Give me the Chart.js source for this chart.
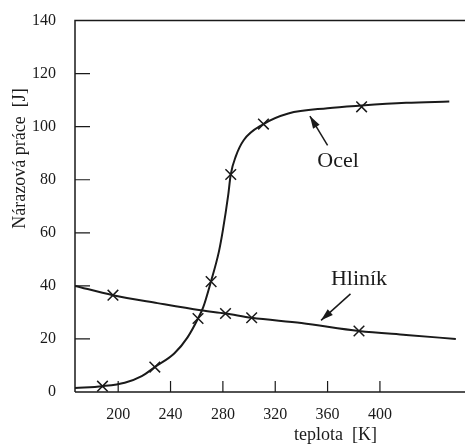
<!DOCTYPE html>
<html>
<head>
<meta charset="utf-8">
<script src="https://cdn.jsdelivr.net/npm/chart.js@4/dist/chart.umd.min.js"></script>
<style>
  html, body { margin: 0; padding: 0; background: #fff; }
  #wrap { width: 474px; height: 445px; }
</style>
</head>
<body>
<div id="wrap"><canvas id="myChart"></canvas></div>
<script>
// curve (teplota K, práce J)
const ocelT = [167, 188, 205, 218, 228, 243, 253, 261, 265, 270.5, 277, 280, 284, 286, 290, 296, 311, 330, 360, 386, 420, 453];
const ocelJ = [1.5, 2.2, 3.5, 6, 9.4, 14.6, 20.6, 27.7, 32, 41, 53, 61, 74, 82, 89, 95, 101, 105, 107, 108, 109, 109.5];
const ocelMarkT = [188, 228, 261, 271, 286, 311, 386];
const ocelMarkJ = [2.2, 9.4, 27.7, 41.6, 82, 101, 107.5];

const hlinikT = [167, 196, 230, 263, 282, 302, 340, 384, 420, 458];
const hlinikJ = [40, 36.5, 33.5, 30.8, 29.6, 28, 26, 23, 21.5, 20];
const hlinikMarkT = [196, 282, 302, 384];
const hlinikMarkJ = [36.5, 29.6, 28, 23];

const xTicks = [200, 240, 280, 320, 360, 400];
const yTicks = [0, 20, 40, 60, 80, 100, 120, 140];

const pts = (xs, ys) => xs.map((x, i) => ({ x: x, y: ys[i] }));
const serif = '"Liberation Serif", "DejaVu Serif", serif';
const ink = '#1a1a1a';

// labels with arrows, in data coordinates
const notes = [
  { text: 'Ocel', x: 368, y: 87, from: [360, 93], to: [346.5, 104] },
  { text: 'Hliník', x: 384, y: 42.5, from: [377.5, 37], to: [355, 27] }
];

const extras = {
  id: 'extras',
  afterDraw(chart) {
    const c = chart.ctx, xs = chart.scales.x, ys = chart.scales.y;
    const a = chart.chartArea;
    c.save();
    c.strokeStyle = ink;
    c.lineWidth = 1.5;
    // frame: left, bottom, top
    c.beginPath();
    c.moveTo(a.left, a.bottom); c.lineTo(a.left, a.top); c.lineTo(a.right, a.top);
    c.moveTo(a.left, a.bottom); c.lineTo(a.right, a.bottom);
    c.stroke();
    // inner ticks
    c.lineWidth = 1.2;
    c.beginPath();
    yTicks.forEach(v => {
      if (v === 0 || v === 140) return;
      const py = ys.getPixelForValue(v);
      c.moveTo(a.left, py); c.lineTo(a.left + 15, py);
    });
    xTicks.forEach(v => {
      const px = xs.getPixelForValue(v);
      c.moveTo(px, a.bottom); c.lineTo(px, a.bottom - 11);
    });
    c.stroke();
    c.fillStyle = ink;
    c.textAlign = 'center';
    c.textBaseline = 'middle';
    // axis titles (off-centre, as in the original)
    c.font = '18px ' + serif;
    c.fillText('teplota  [K]', xs.getPixelForValue(366), 435);
    c.save();
    c.translate(20, ys.getPixelForValue(88));
    c.rotate(-Math.PI / 2);
    c.fillText('Nárazová práce  [J]', 0, 0);
    c.restore();
    // notes
    c.font = '22px ' + serif;
    notes.forEach(n => {
      c.fillText(n.text, xs.getPixelForValue(n.x), ys.getPixelForValue(n.y));
      const x1 = xs.getPixelForValue(n.from[0]), y1 = ys.getPixelForValue(n.from[1]);
      const x2 = xs.getPixelForValue(n.to[0]), y2 = ys.getPixelForValue(n.to[1]);
      c.lineWidth = 1.5;
      c.beginPath(); c.moveTo(x1, y1); c.lineTo(x2, y2); c.stroke();
      const ang = Math.atan2(y2 - y1, x2 - x1), L = 13, W = 0.3;
      c.beginPath();
      c.moveTo(x2, y2);
      c.lineTo(x2 - L * Math.cos(ang - W), y2 - L * Math.sin(ang - W));
      c.lineTo(x2 - L * Math.cos(ang + W), y2 - L * Math.sin(ang + W));
      c.closePath(); c.fill();
    });
    c.restore();
  }
};

const ctx = document.getElementById('myChart').getContext('2d');

new Chart(ctx, {
  type: 'scatter',
  data: {
    datasets: [
      {
        label: 'Ocel',
        data: pts(ocelT, ocelJ),
        showLine: true,
        borderColor: ink,
        borderWidth: 2,
        pointRadius: 0,
        cubicInterpolationMode: 'monotone'
      },
      {
        label: 'Hliník',
        data: pts(hlinikT, hlinikJ),
        showLine: true,
        borderColor: ink,
        borderWidth: 2,
        pointRadius: 0,
        cubicInterpolationMode: 'monotone'
      },
      {
        label: 'Ocel body',
        data: pts(ocelMarkT, ocelMarkJ),
        pointStyle: 'crossRot',
        pointRadius: 7.5,
        borderColor: ink,
        borderWidth: 1.5
      },
      {
        label: 'Hliník body',
        data: pts(hlinikMarkT, hlinikMarkJ),
        pointStyle: 'crossRot',
        pointRadius: 7.5,
        borderColor: ink,
        borderWidth: 1.5
      }
    ]
  },
  options: {
    responsive: true,
    maintainAspectRatio: false,
    animation: false,
    layout: { padding: { top: 19, right: 0, left: 0, bottom: 0 } },
    plugins: {
      legend: { display: false },
      tooltip: { enabled: false }
    },
    scales: {
      x: {
        type: 'linear',
        min: 167,
        max: 465,
        afterBuildTicks: s => { s.ticks = xTicks.map(v => ({ value: v })); },
        afterFit: s => { s.height = 53; },
        grid: { display: false },
        border: { display: false },
        ticks: { color: ink, font: { family: serif, size: 16 }, padding: 5, maxRotation: 0 }
      },
      y: {
        min: 0,
        max: 140,
        afterBuildTicks: s => { s.ticks = yTicks.map(v => ({ value: v })); },
        afterFit: s => { s.width = 75; },
        grid: { display: false },
        border: { display: false },
        ticks: { color: ink, font: { family: serif, size: 16 }, padding: 11 }
      }
    }
  },
  plugins: [extras]
});
</script>
</body>
</html>
